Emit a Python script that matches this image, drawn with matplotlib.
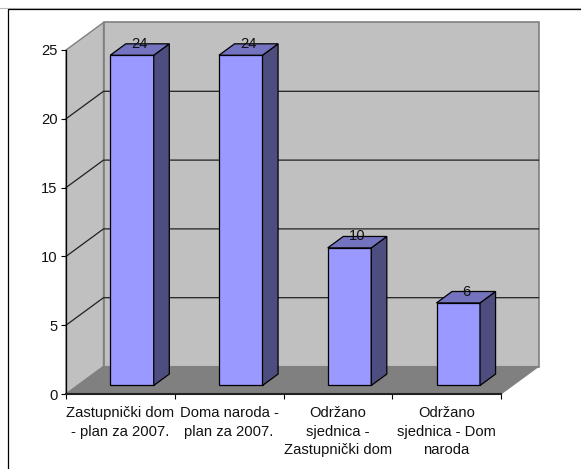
import matplotlib
matplotlib.use("Agg")
import matplotlib.pyplot as plt
from matplotlib.lines import Line2D
from matplotlib.patches import Polygon

# ── Data ─────────────────────────────────────────────────────────────────────
categories = [
    "Zastupnički dom\n- plan za 2007.",
    "Doma naroda -\nplan za 2007.",
    "Održano\nsjednica -\nZastupnički dom",
    "Održano\nsjednica - Dom\nnaroda",
]
values = [24, 24, 10, 6]
y_ticks = [0, 5, 10, 15, 20, 25]

# ── Style ────────────────────────────────────────────────────────────────────
WALL = "#C0C0C0"
FLOOR = "#808080"
FRONT = "#9999FF"
SIDE = "#4D4D80"
TOP = "#7373BF"
plt.rcParams["font.family"] = ["Liberation Sans", "DejaVu Sans"]

W, H = 581, 469
# pseudo 3D depth of the chart box, in axis units (1 category, 1 value unit)
DEPTH_X = 37.5 / 108.75
DEPTH_Y = 27.5 / 13.76
BAR_WIDTH = 0.4
BAR_FRONT = 0.31   # depth of the bar front and back, share of the box depth
BAR_BACK = 0.725


def proj(x, y, d=0.0):
    """Shift a data point backwards by depth share d"""
    return (x + d * DEPTH_X, y + d * DEPTH_Y)


fig = plt.figure(figsize=(W / 100, H / 100), dpi=100, facecolor="white")
ax = fig.add_axes([66 / W, 1 - 394 / H, 435 / W, 344 / H])
ax.set_xlim(0, len(values))
ax.set_ylim(0, 25)
ax.patch.set_visible(False)

# ── Walls and floor ──────────────────────────────────────────────────────────
nx = len(values)
ax.add_patch(Polygon([proj(0, 0, 1), proj(nx, 0, 1), proj(nx, 25, 1), proj(0, 25, 1)],
                     fc=WALL, ec=FLOOR, lw=1.2, clip_on=False, zorder=1))
ax.add_patch(Polygon([proj(0, 0), proj(0, 0, 1), proj(0, 25, 1), proj(0, 25)],
                     fc=WALL, ec=FLOOR, lw=1.0, clip_on=False, zorder=1))
ax.add_patch(Polygon([proj(0, 0), proj(nx, 0), proj(nx, 0, 1), proj(0, 0, 1)],
                     fc=FLOOR, ec=FLOOR, lw=0.8, clip_on=False, zorder=1))

# gridlines run along the side wall, then across the back wall
for v in y_ticks[1:-1]:
    pts = [proj(0, v), proj(0, v, 1), proj(nx, v, 1)]
    ax.plot([p[0] for p in pts], [p[1] for p in pts], color="#202020", lw=0.9,
            clip_on=False, zorder=2)

# ── Bars ─────────────────────────────────────────────────────────────────────
for i, val in enumerate(values):
    x0 = i + 0.5 - BAR_WIDTH / 2
    x1 = x0 + BAR_WIDTH
    d0, d1 = BAR_FRONT, BAR_BACK
    ax.add_patch(Polygon([proj(x0, 0, d0), proj(x1, 0, d0), proj(x1, val, d0), proj(x0, val, d0)],
                         fc=FRONT, ec="black", lw=0.9, clip_on=False, zorder=3))
    ax.add_patch(Polygon([proj(x1, 0, d0), proj(x1, 0, d1), proj(x1, val, d1), proj(x1, val, d0)],
                         fc=SIDE, ec="black", lw=0.9, clip_on=False, zorder=3))
    ax.add_patch(Polygon([proj(x0, val, d0), proj(x1, val, d0), proj(x1, val, d1), proj(x0, val, d1)],
                         fc=TOP, ec="black", lw=0.9, clip_on=False, zorder=3))
    # label sits over the middle of the top face, on its back edge
    lx = proj((x0 + x1) / 2, val, (d0 + d1) / 2)[0]
    ly = proj((x0 + x1) / 2, val, d1)[1]
    ax.text(lx, ly, str(val), ha="center", va="center", fontsize=10.6, color="#111111", zorder=4)

# ── Axes ─────────────────────────────────────────────────────────────────────
for side in ("top", "right"):
    ax.spines[side].set_visible(False)
ax.spines["left"].set_linewidth(0.9)
ax.spines["bottom"].set_linewidth(1.5)
ax.spines["bottom"].set_color("#202020")
ax.spines["left"].set_zorder(5)
ax.spines["bottom"].set_zorder(5)

ax.set_yticks(y_ticks)
ax.tick_params(axis="y", length=3.6, width=0.8, pad=2.5, labelsize=10.6, labelcolor="#111111")
ax.set_xticks(range(nx + 1))
ax.set_xticklabels([])
ax.tick_params(axis="x", which="major", length=3.6, width=0.8)
ax.set_xticks([i + 0.5 for i in range(nx)], minor=True)
ax.set_xticklabels(categories, minor=True, fontsize=10.6, linespacing=1.44, color="#111111")
ax.tick_params(axis="x", which="minor", length=0, pad=8.5)

# ── Outer frame (left and top only, the right and bottom are cut off) ────────
fig.add_artist(Line2D([0, 1], [1 - 8.2 / H] * 2, color="#BBBBBB", lw=0.8))
fig.add_artist(Line2D([7.7 / W, 7.7 / W, 1], [0, 1 - 9.2 / H, 1 - 9.2 / H], color="black", lw=0.9))

fig.savefig("out.png", dpi=100)
